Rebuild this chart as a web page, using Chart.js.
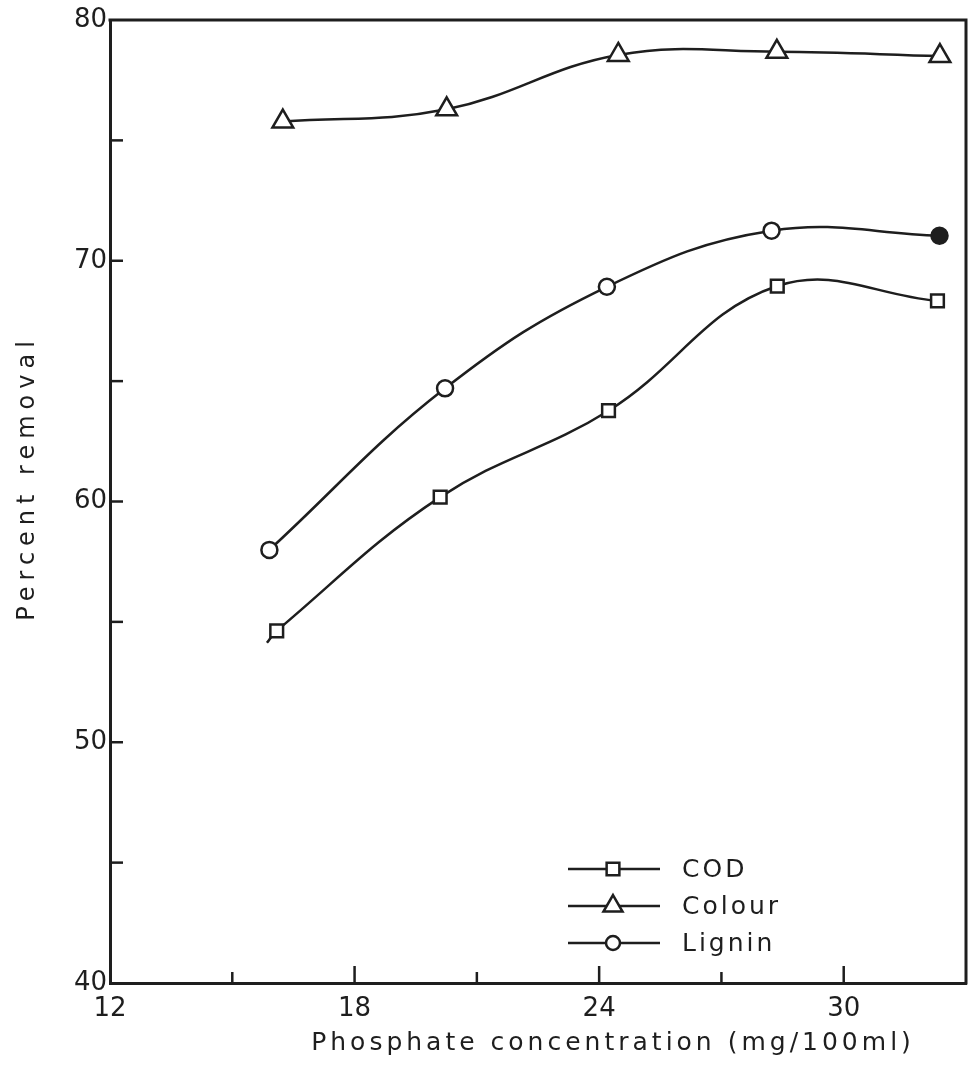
<!DOCTYPE html>
<html>
<head>
<meta charset="utf-8">
<script src="https://cdn.jsdelivr.net/npm/chart.js@4.4.1/dist/chart.umd.min.js"></script>
<style>
  html, body { margin: 0; padding: 0; background: #fff; }
  canvas { display: block; }
</style>
</head>
<body>
<canvas id="chart" width="970" height="1068"></canvas>
<script>
// values (first COD entry is the short lead-in stub, no marker)
const codX = [15.85, 16.09, 20.1, 24.23, 28.37, 32.3];
const codY = [54.13, 54.63, 60.18, 63.77, 68.95, 68.33];
const colourX = [16.24, 20.26, 24.47, 28.36, 32.36];
const colourY = [75.78, 76.29, 78.55, 78.68, 78.5];
const ligninX = [15.91, 20.22, 24.19, 28.23, 32.35];
const ligninY = [57.99, 64.7, 68.92, 71.25, 71.04];
const xLabels = [12, 18, 24, 30];
const yLabels = [40, 50, 60, 70, 80];
const xTitle = 'Phosphate concentration (mg/100ml)';
const yTitle = 'Percent removal';

const ink = '#1e1e1e';
const fontFamily = '"DejaVu Sans", sans-serif';

function pts(xs, ys) {
  return xs.map((x, i) => ({ x: x, y: ys[i] }));
}

const framePlugin = {
  id: 'frame',
  afterDraw(chart) {
    const ctx = chart.ctx;
    const a = chart.chartArea;
    const xs = chart.scales.x;
    const ys = chart.scales.y;
    ctx.save();
    ctx.strokeStyle = ink;
    ctx.lineCap = 'square';

    // top and right sides of the box
    ctx.lineWidth = 3;
    ctx.beginPath();
    ctx.moveTo(a.left, a.top);
    ctx.lineTo(a.right, a.top);
    ctx.lineTo(a.right, a.bottom);
    ctx.stroke();

    // tick marks pointing into the plot
    ctx.lineWidth = 2.5;
    ctx.lineCap = 'butt';
    xs.ticks.forEach(t => {
      if (t.value <= xs.min || t.value >= xs.max) return;
      const px = xs.getPixelForValue(t.value);
      const len = xLabels.includes(t.value) ? 17 : 11;
      ctx.beginPath();
      ctx.moveTo(px, a.bottom);
      ctx.lineTo(px, a.bottom - len);
      ctx.stroke();
    });
    ys.ticks.forEach(t => {
      if (t.value <= ys.min || t.value >= ys.max) return;
      const py = ys.getPixelForValue(t.value);
      ctx.beginPath();
      ctx.moveTo(a.left, py);
      ctx.lineTo(a.left + 13, py);
      ctx.stroke();
    });

    // axis titles (wide lettering like the original)
    ctx.fillStyle = ink;
    ctx.letterSpacing = '4px';
    ctx.font = '25px ' + fontFamily;
    ctx.textAlign = 'center';
    ctx.textBaseline = 'alphabetic';
    ctx.fillText(xTitle, 613, 1050);

    ctx.save();
    ctx.letterSpacing = '6px';
    ctx.font = '24px ' + fontFamily;
    ctx.translate(34, 478);
    ctx.rotate(-Math.PI / 2);
    ctx.fillText(yTitle, 0, 0);
    ctx.restore();

    // legend: line, marker, name
    const legendRadius = [9, 11, 7];
    ctx.letterSpacing = '3px';
    ctx.font = '25px ' + fontFamily;
    ctx.textAlign = 'left';
    ctx.textBaseline = 'middle';
    chart.data.datasets.forEach((ds, i) => {
      const ly = 869 + i * 37;
      ctx.lineWidth = 2.5;
      ctx.strokeStyle = ink;
      ctx.beginPath();
      ctx.moveTo(568, ly);
      ctx.lineTo(660, ly);
      ctx.stroke();
      ctx.fillStyle = '#fff';
      Chart.helpers.drawPoint(ctx, {
        pointStyle: ds.pointStyle,
        radius: legendRadius[i],
        rotation: 0,
        borderWidth: 2.5
      }, 613, ly);
      ctx.fillStyle = ink;
      ctx.fillText(ds.label, 682, ly + 1);
    });
    ctx.restore();
  }
};

const tickFont = { family: fontFamily, size: 26 };

new Chart(document.getElementById('chart'), {
  type: 'line',
  data: {
    datasets: [
      {
        label: 'COD',
        data: pts(codX, codY),
        borderColor: ink,
        borderWidth: 2.5,
        tension: 0.4,
        pointStyle: 'rect',
        pointRadius: codX.map((x, i) => i === 0 ? 0 : 9),
        pointBackgroundColor: '#fff',
        pointBorderColor: ink,
        pointBorderWidth: 2.5
      },
      {
        label: 'Colour',
        data: pts(colourX, colourY),
        borderColor: ink,
        borderWidth: 2.5,
        tension: 0.4,
        pointStyle: 'triangle',
        pointRadius: 12,
        pointBackgroundColor: '#fff',
        pointBorderColor: ink,
        pointBorderWidth: 2.5
      },
      {
        label: 'Lignin',
        data: pts(ligninX, ligninY),
        borderColor: ink,
        borderWidth: 2.5,
        tension: 0.4,
        pointStyle: 'circle',
        pointRadius: 8,
        pointBackgroundColor: ligninX.map((x, i) => i === 4 ? ink : '#fff'),
        pointBorderColor: ink,
        pointBorderWidth: 2.5
      }
    ]
  },
  options: {
    responsive: false,
    animation: false,
    layout: { autoPadding: false, padding: { top: 20, right: 4, left: 0, bottom: 0 } },
    plugins: {
      legend: { display: false },
      tooltip: { enabled: false }
    },
    scales: {
      x: {
        type: 'linear',
        min: 12,
        max: 33,
        afterFit: s => {
          s.height = 85;
          s.paddingLeft = 0;
          s.paddingRight = 0;
        },
        border: { color: ink, width: 3 },
        grid: { display: false, drawTicks: false },
        ticks: {
          stepSize: 3,
          autoSkip: false,
          maxRotation: 0,
          padding: 11,
          color: ink,
          font: tickFont,
          callback: v => xLabels.includes(v) ? String(v) : ''
        }
      },
      y: {
        type: 'linear',
        min: 40,
        max: 80,
        afterFit: s => {
          s.width = 110;
          s.paddingTop = 0;
          s.paddingBottom = 0;
        },
        border: { color: ink, width: 3 },
        grid: { display: false, drawTicks: false },
        ticks: {
          stepSize: 5,
          autoSkip: false,
          padding: 3,
          color: ink,
          font: tickFont,
          callback: v => yLabels.includes(v) ? String(v) : ''
        }
      }
    }
  },
  plugins: [framePlugin]
});
</script>
</body>
</html>
